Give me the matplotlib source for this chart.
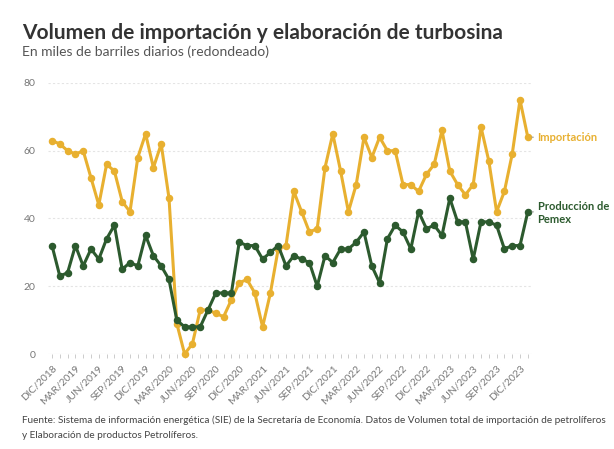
import matplotlib
matplotlib.use("Agg")
import matplotlib.pyplot as plt
import numpy as np

months_es = ["ENE", "FEB", "MAR", "ABR", "MAY", "JUN", "JUL", "AGO", "SEP", "OCT", "NOV", "DIC"]
# Monthly series from DIC/2018 to ENE/2024
importacion = [63, 62, 60, 59, 60, 52, 44, 56, 54, 45, 42, 58, 65, 55, 62, 46, 9, 0, 3, 13, 13,
               12, 11, 16, 21, 22, 18, 8, 18, 31, 32, 48, 42, 36, 37, 55,
               65, 54, 42, 50, 64, 58, 64, 60, 60, 50, 50, 48, 53, 56, 66, 54, 50, 47, 50, 67,
               57, 42, 48, 59, 75, 64]
produccion = [32, 23, 24, 32, 26, 31, 28, 34, 38, 25, 27, 26, 35, 29, 26, 22, 10, 8, 8, 8, 13,
              18, 18, 18, 33, 32, 32, 28, 30, 32, 26, 29, 28, 27, 20, 29,
              27, 31, 31, 33, 36, 26, 21, 34, 38, 36, 31, 42, 37, 38, 35, 46, 39, 39, 28, 39,
              39, 38, 31, 32, 32, 42]
labels = []
m, y = 11, 2018
for _ in range(len(importacion)):
    labels.append(f"{months_es[m]}/{y}")
    m += 1
    if m == 12:
        m, y = 0, y + 1

yellow = "#E8B030"
green = "#2C5A2E"

plt.rcParams['font.family'] = ['Lato', 'DejaVu Sans']
fig = plt.figure(figsize=(6.14, 4.49), dpi=100)
ax = fig.add_axes([48.1 / 614, 95 / 449, 483.6 / 614, 271 / 449])

x = np.arange(len(importacion))
ax.plot(x, importacion, color=yellow, lw=2.2, marker='o', ms=4.4, clip_on=False, zorder=3)
ax.plot(x, produccion, color=green, lw=2.2, marker='o', ms=4.4, clip_on=False, zorder=3)

ax.set_xlim(-0.5, len(x) - 0.5)
ax.set_ylim(0, 80)
ax.set_yticks([0, 20, 40, 60, 80])
ax.set_yticklabels(["0", "20", "40", "60", "80"], color="#777777", fontsize=7.5)
ax.tick_params(axis='y', length=0, pad=9)
for yv in [20, 40, 60, 80]:
    ax.axhline(yv, color="#e4e4e4", lw=0.8, ls=(0, (2, 2)), zorder=1)
ax.axhline(0, color="#dddddd", lw=0.8, zorder=1)

ax.set_xticks(x[::3])
ax.set_xticklabels(labels[::3], rotation=45, ha='right', rotation_mode='anchor',
                   color="#777777", fontsize=7.4)
ax.set_xticks(x, minor=True)
ax.tick_params(axis='x', which='both', length=3, color="#cccccc", width=0.7, pad=4)
for s in ax.spines.values():
    s.set_visible(False)

ax.annotate("Importación", xy=(x[-1], importacion[-1]), xytext=(7, 0),
            textcoords='offset points', va='center', ha='left', fontsize=8,
            fontweight='bold', color=yellow,
            arrowprops=dict(arrowstyle='-', color='#999999', lw=0.8, shrinkA=1, shrinkB=3))
ax.annotate("Producción de\nPemex", xy=(x[-1], produccion[-1]), xytext=(7, -1),
            textcoords='offset points', va='center', ha='left', fontsize=8,
            fontweight='bold', color=green, linespacing=1.2,
            arrowprops=dict(arrowstyle='-', color='#999999', lw=0.8, shrinkA=1, shrinkB=3))

fig.text(22 / 614, 1 - 33 / 449, "Volumen de importación y elaboración de turbosina",
         fontsize=15, fontweight='bold', color="#333333", va='center', ha='left')
fig.text(22 / 614, 1 - 52 / 449, "En miles de barriles diarios (redondeado)",
         fontsize=10, color="#555555", va='center', ha='left')
fig.text(22 / 614, 1 - 420 / 449,
         "Fuente: Sistema de información energética (SIE) de la Secretaría de Economía. Datos de Volumen total de importación de petrolíferos",
         fontsize=7.2, color="#444444", va='center', ha='left')
fig.text(22 / 614, 1 - 435 / 449, "y Elaboración de productos Petrolíferos.",
         fontsize=7.2, color="#444444", va='center', ha='left')

fig.savefig("out.png", dpi=100)
